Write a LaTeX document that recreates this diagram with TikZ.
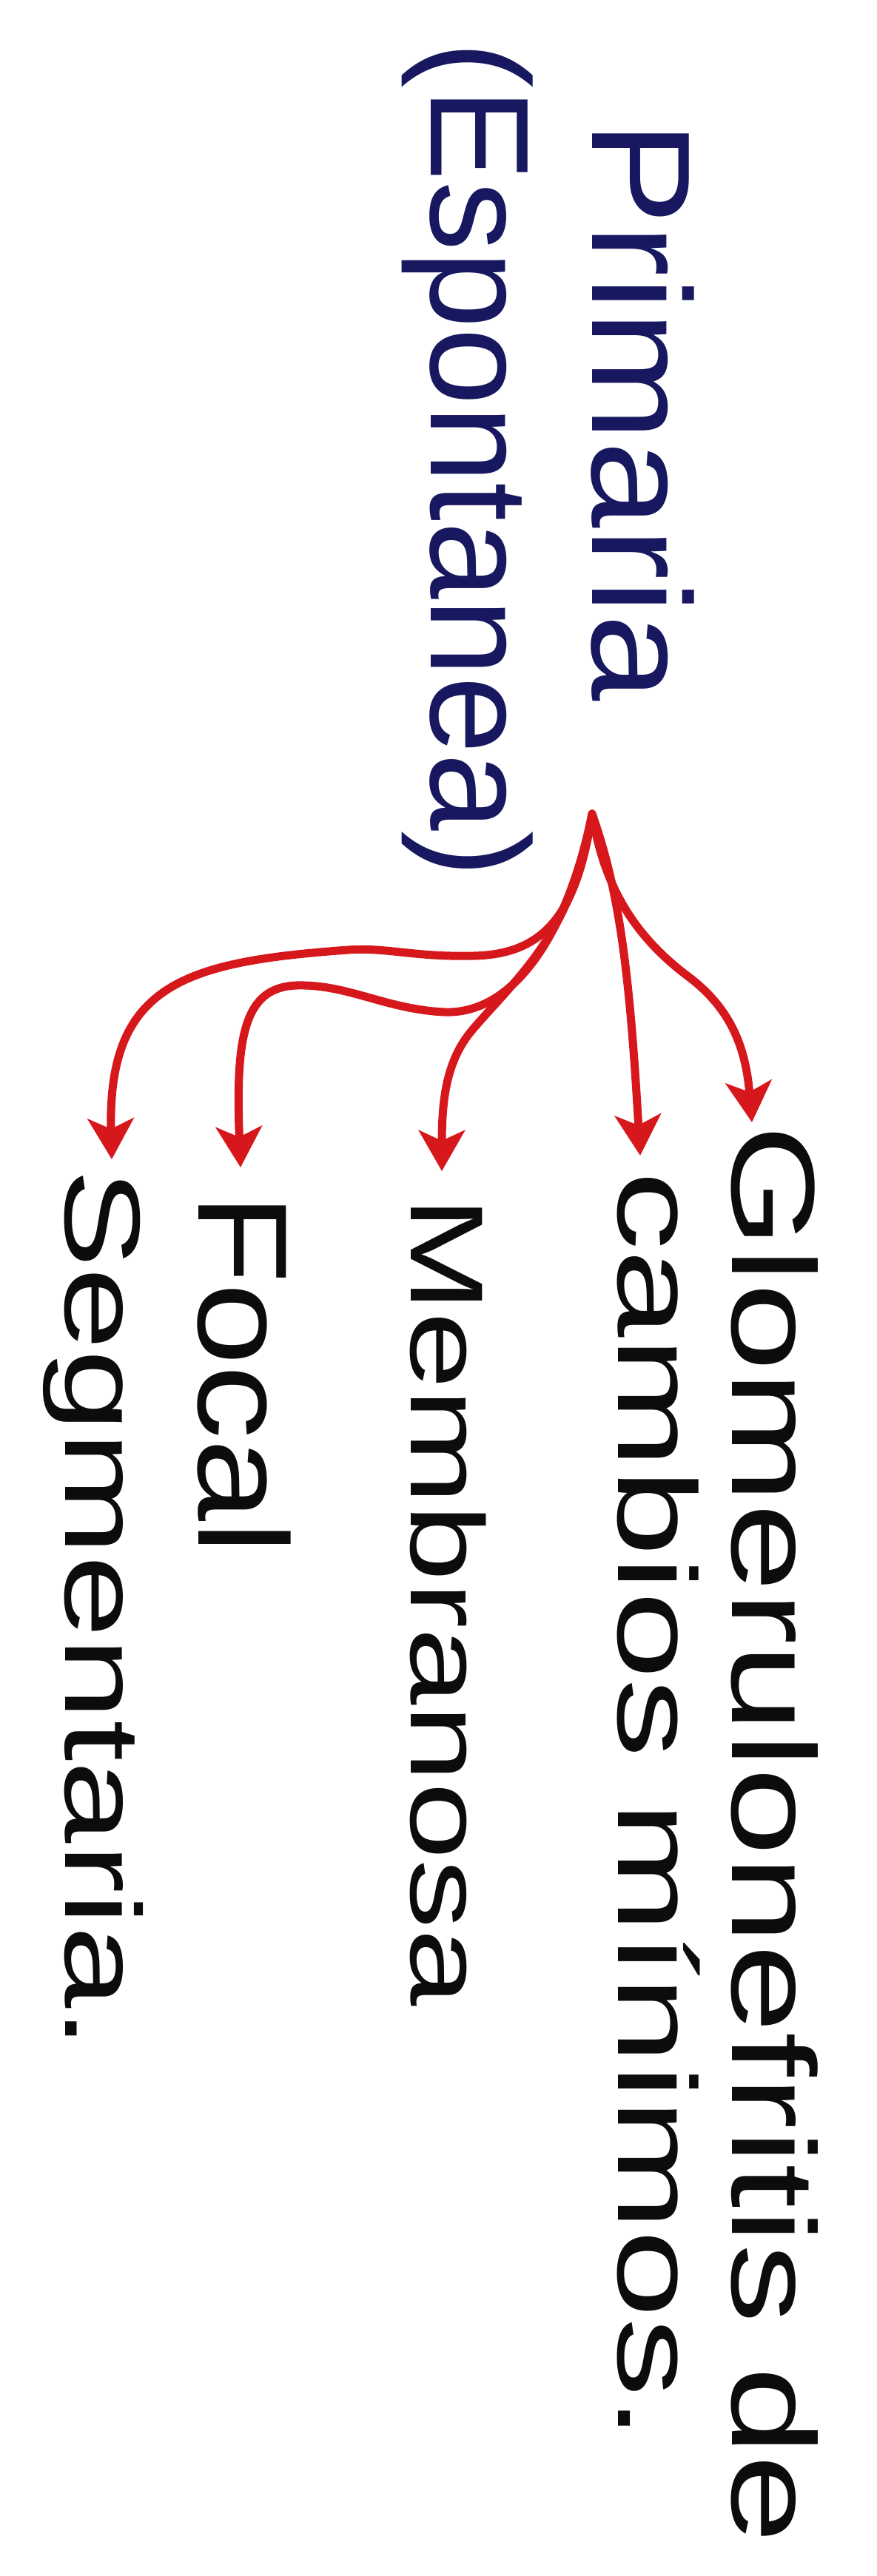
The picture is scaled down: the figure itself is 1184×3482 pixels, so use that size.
\documentclass[tikz,border=0pt]{standalone}
\usepackage{fontspec}
\setmainfont{Liberation Sans}
\usepackage{graphicx}
\usetikzlibrary{arrows.meta}
\definecolor{inkred}{RGB}{214,24,28}
\definecolor{inkblue}{RGB}{24,24,96}
\definecolor{inkblack}{RGB}{12,12,12}
\begin{document}
\begin{tikzpicture}[x=1pt,y=1pt,
  lbl/.style={anchor=base west, inner sep=0pt, outer sep=0pt, rotate=-90, text=inkblack},
  bluelbl/.style={lbl, text=inkblue},
  conn/.style={draw=inkred, line width=11pt, line cap=round,
    -{Stealth[length=55pt,width=62pt,inset=14pt]}}]
\fill[white] (0,0) rectangle (1184,-3482);
\useasboundingbox (0,0) rectangle (1184,-3482);

% blue headings
\node[bluelbl, font=\fontsize{190}{190}\selectfont] (esp) at (582,-57) {\scalebox{0.99}[1]{(Espontanea)}};
\node[bluelbl, font=\fontsize{190}{190}\selectfont] (prim) at (800,-163) {\scalebox{1.11}[1]{Primaria}};

% black labels
\node[lbl, font=\fontsize{160}{160}\selectfont] (glom) at (989,-1520) {\scalebox{1.34}[1]{Glomerulonefritis de}};
\node[lbl, font=\fontsize{150}{150}\selectfont] (camb) at (835,-1583) {\scalebox{1.42}[1]{cambios mínimos.}};
\node[lbl, font=\fontsize{140}{140}\selectfont] (memb) at (555,-1617) {\scalebox{1.34}[1]{Membranosa}};
\node[lbl, font=\fontsize{172}{172}\selectfont] (foc) at (268,-1613) {\scalebox{1.16}[1]{Focal}};
\node[lbl, font=\fontsize{145}{145}\selectfont] (seg) at (88,-1580) {\scalebox{1.38}[1]{Segmentaria.}};

% connector ends
\coordinate (root) at (800,-1100);
\coordinate (tG) at (1016,-1517);
\coordinate (tC) at (865,-1562);
\coordinate (tM) at (597,-1583);
\coordinate (tF) at (325,-1578);
\coordinate (tS) at (151,-1567);

\draw[conn] (root) .. controls (815,-1190) and (850,-1260) .. (930,-1320)
  .. controls (990,-1365) and (1008,-1420) .. (tG);
\draw[conn] (root) .. controls (835,-1200) and (850,-1300) .. (tC);
\draw[conn] (root) .. controls (775,-1260) and (700,-1320) .. (640,-1390)
  .. controls (605,-1430) and (597,-1480) .. (tM);
\draw[conn] (root) .. controls (770,-1250) and (700,-1372) .. (600,-1368)
  .. controls (520,-1364) and (470,-1330) .. (400,-1332)
  .. controls (330,-1335) and (318,-1400) .. (tF);
\draw[conn] (root) .. controls (780,-1230) and (740,-1290) .. (640,-1292)
  .. controls (560,-1294) and (520,-1280) .. (470,-1284)
  .. controls (250,-1300) and (145,-1330) .. (tS);
\end{tikzpicture}
\end{document}
